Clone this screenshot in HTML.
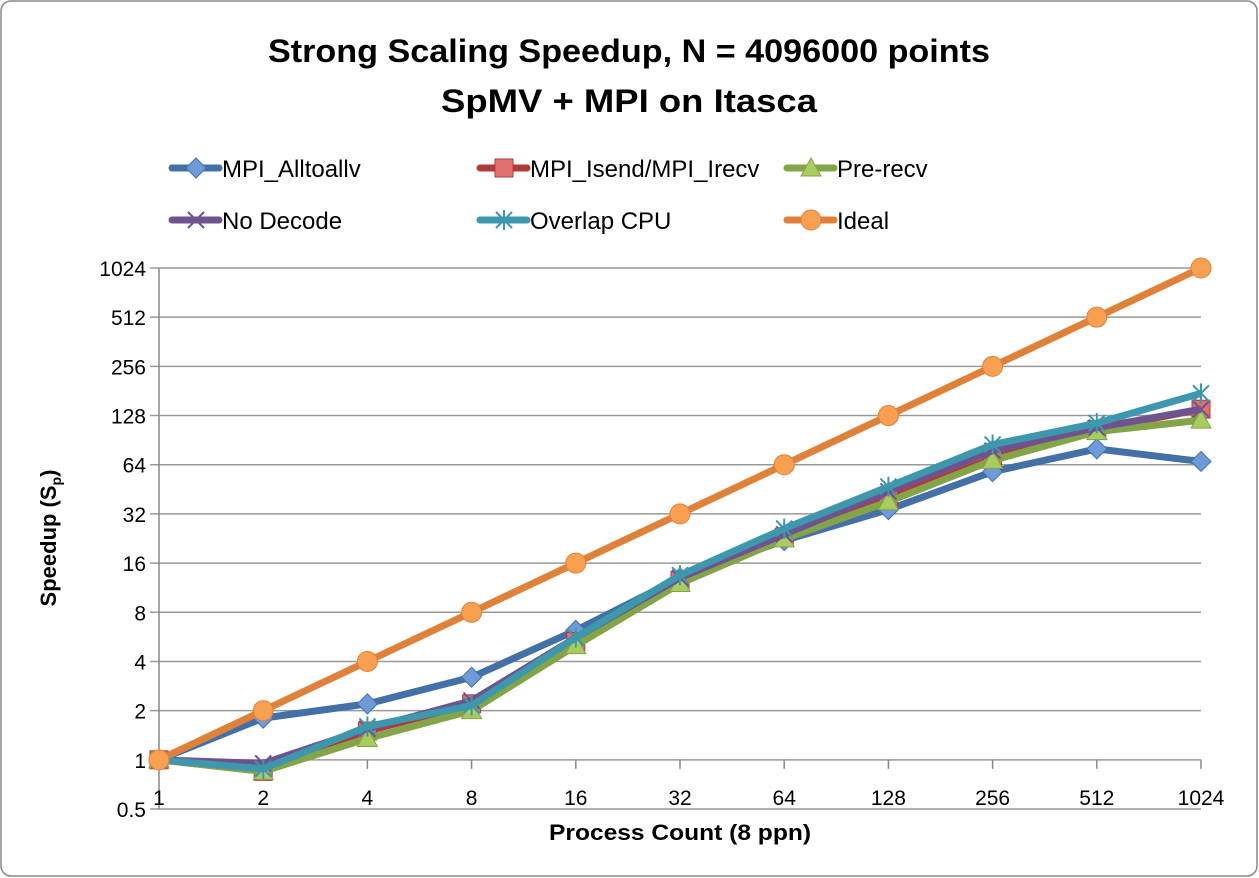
<!DOCTYPE html>
<html><head><meta charset="utf-8"><style>
body{margin:0;background:#fff;}
svg{display:block;font-family:"Liberation Sans",sans-serif;}
</style></head><body>
<svg id="c" width="1259" height="878">
<rect x="1" y="1" width="1256" height="875" rx="10" fill="#fff" stroke="#888" stroke-width="1.5"/>
<text x="629" y="62" text-anchor="middle" font-size="32" font-weight="bold" textLength="722" lengthAdjust="spacingAndGlyphs">Strong Scaling Speedup, N = 4096000 points</text>
<text x="629" y="112" text-anchor="middle" font-size="32" font-weight="bold" textLength="376" lengthAdjust="spacingAndGlyphs">SpMV + MPI on Itasca</text>
<g id="grid"></g><g id="axes"></g><g id="series"></g><g id="legend"></g>
<text x="680" y="840" text-anchor="middle" font-size="22" font-weight="bold" textLength="262" lengthAdjust="spacingAndGlyphs">Process Count (8 ppn)</text>
<text transform="translate(56,538) rotate(-90)" text-anchor="middle" font-size="22" font-weight="bold">Speedup (S<tspan font-size="14" dy="5">p</tspan><tspan dy="-5">)</tspan></text>
</svg>
<script>
const categories=["1","2","4","8","16","32","64","128","256","512","1024"];
const yTicks=[0.5,1,2,4,8,16,32,64,128,256,512,1024];
const sAlltoallv=[1,1.8,2.2,3.2,6.2,13,22,34,58,80,67];
const sIsend=[1,0.85,1.5,2.2,5.3,12.5,23,40,70,105,140];
const sPrerecv=[1,0.85,1.35,2.0,5.0,12,22.5,38,68,102,120];
const sNoDecode=[1,0.95,1.55,2.3,5.6,13,24,44,78,108,140];
const sOverlap=[1,0.88,1.6,2.15,5.6,13.5,26,47,85,115,175];
const sIdeal=[1,2,4,8,16,32,64,128,256,512,1024];
const NS="http://www.w3.org/2000/svg";
const X0=159,X1=1201,Y0=809,Y1=268;
function xs(i){return X0+i*(X1-X0)/(categories.length-1);}
function ys(v){return Y0-(Math.log2(v)-Math.log2(0.5))/(Math.log2(1024)-Math.log2(0.5))*(Y0-Y1);}
function mk(tag,attrs,parent){const e=document.createElementNS(NS,tag);for(const k in attrs)e.setAttribute(k,attrs[k]);parent.appendChild(e);return e;}
const grid=document.getElementById('grid'),axes=document.getElementById('axes'),ser=document.getElementById('series'),leg=document.getElementById('legend');
yTicks.forEach(t=>{const y=ys(t);
 const l=mk('line',{x1:150,x2:X1,y1:y,y2:y,stroke:'#999','stroke-width':1.5},grid);
 
 
 const tx=mk('text',{x:146,y:y+8,'text-anchor':'end','font-size':21},axes);tx.textContent=String(t);
 
 
});
const ax=mk('line',{x1:X0,x2:X0,y1:Y1,y2:Y0,stroke:'#888','stroke-width':1.5},axes);


categories.forEach((c,i)=>{const x=xs(i);
 const tk=mk('line',{x1:x,x2:x,y1:ys(1),y2:ys(1)+9,stroke:'#888','stroke-width':1.5},axes);
 
 
 const tx=mk('text',{x:x,y:805,'text-anchor':'middle','font-size':21},axes);tx.textContent=c;
 
 
});
function marker(type,x,y,col,fill,g){
 if(type==='diamond')mk('polygon',{points:`${x},${y-10} ${x+10},${y} ${x},${y+10} ${x-10},${y}`,fill:fill,stroke:col,'stroke-width':1},g);
 else if(type==='square')mk('rect',{x:x-9,y:y-9,width:18,height:18,fill:fill,stroke:col,'stroke-width':1},g);
 else if(type==='triangle')mk('polygon',{points:`${x},${y-10} ${x+10},${y+8} ${x-10},${y+8}`,fill:fill,stroke:col,'stroke-width':1},g);
 else if(type==='x'){mk('path',{d:`M${x-8},${y-8}L${x+8},${y+8}M${x+8},${y-8}L${x-8},${y+8}`,stroke:col,'stroke-width':2},g);}
 else if(type==='star'){mk('path',{d:`M${x-8},${y-8}L${x+8},${y+8}M${x+8},${y-8}L${x-8},${y+8}M${x},${y-10}L${x},${y+10}`,stroke:col,'stroke-width':2},g);}
 else if(type==='circle')mk('circle',{cx:x,cy:y,r:10,fill:fill,stroke:col,'stroke-width':1},g);
}
const series=[
 {name:'MPI_Alltoallv',d:sAlltoallv,col:'#4470a8',fill:'#6f9ad8',m:'diamond',key:'alltoallv',lx:172,ly:168},
 {name:'MPI_Isend/MPI_Irecv',d:sIsend,col:'#b03c3a',fill:'#e07070',m:'square',key:'isend',lx:480,ly:168},
 {name:'Pre-recv',d:sPrerecv,col:'#84a448',fill:'#a8cc60',m:'triangle',key:'prerecv',lx:787,ly:168},
 {name:'No Decode',d:sNoDecode,col:'#6e5390',fill:'#8a70ac',m:'x',key:'nodecode',lx:172,ly:220},
 {name:'Overlap CPU',d:sOverlap,col:'#3d97ad',fill:'#5ab',m:'star',key:'overlap',lx:480,ly:220},
 {name:'Ideal',d:sIdeal,col:'#e0813a',fill:'#f8a050',m:'circle',key:'ideal',lx:787,ly:220}
];
series.forEach(s=>{
 const g=mk('g',{},ser);
 
 
 const pts=s.d.map((v,i)=>xs(i)+','+ys(v)).join(' ');
 const pl=mk('polyline',{points:pts,fill:'none',stroke:s.col,'stroke-width':7,'stroke-linejoin':'round'},g);
 
 
 s.d.forEach((v,i)=>marker(s.m,xs(i),ys(v),s.col,s.fill,g));
 const lg=mk('g',{},leg);
 
 
 mk('line',{x1:s.lx,x2:s.lx+47,y1:s.ly,y2:s.ly,stroke:s.col,'stroke-width':7,'stroke-linecap':'round'},lg);
 marker(s.m,s.lx+24,s.ly,s.col,s.fill,lg);
 const t=mk('text',{x:s.lx+50,y:s.ly+9,'font-size':24},lg);t.textContent=s.name;
});
</script>
</body></html>
